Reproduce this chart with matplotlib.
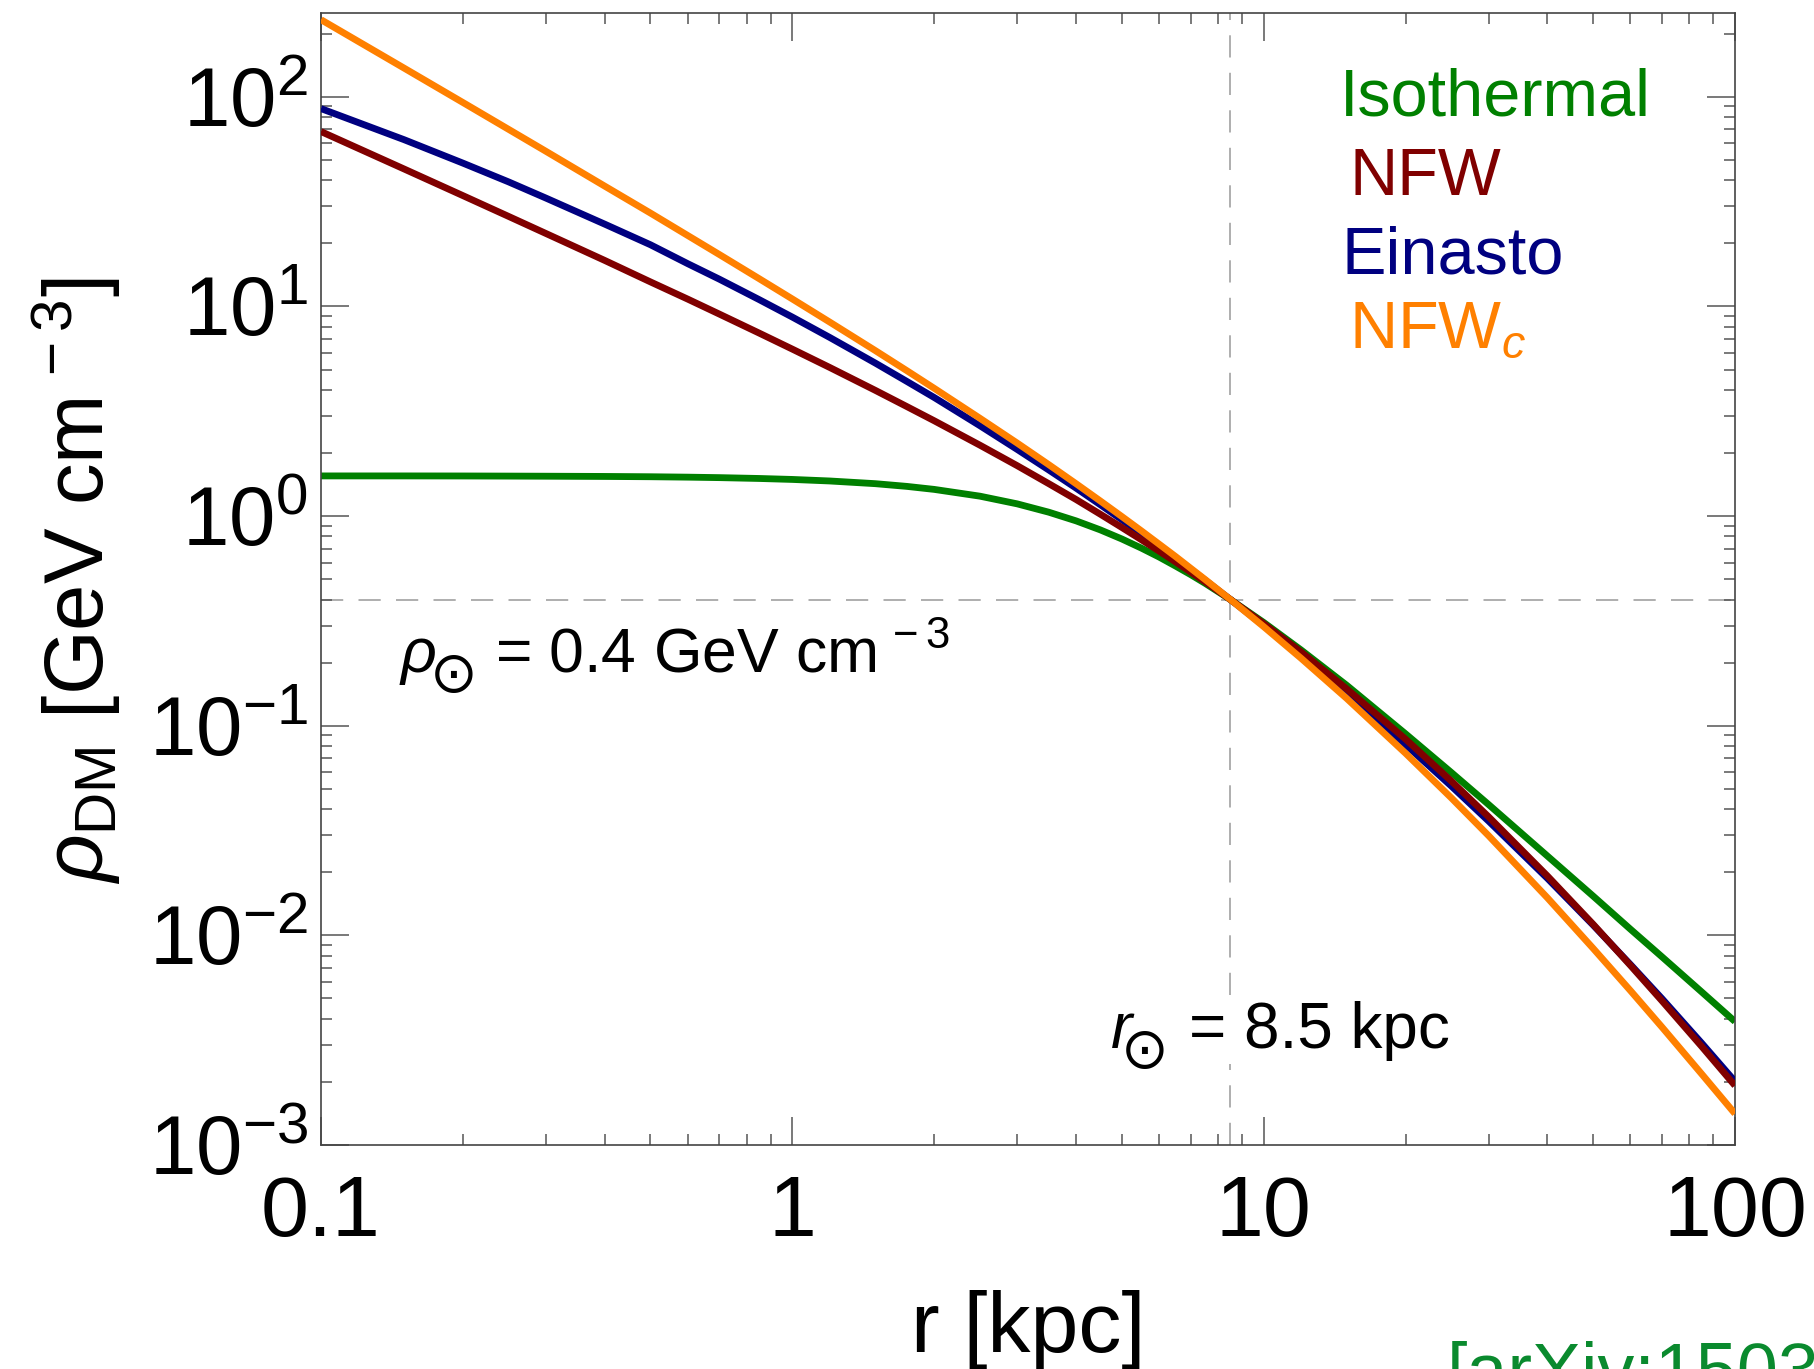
import matplotlib
matplotlib.use("Agg")
import matplotlib.pyplot as plt
import matplotlib.transforms as mtransforms
from matplotlib.ticker import LogLocator, NullFormatter

plt.rcParams['font.family'] = ['Liberation Sans', 'DejaVu Sans']
plt.rcParams['mathtext.fontset'] = 'custom'
plt.rcParams['mathtext.rm'] = 'Liberation Sans'
plt.rcParams['mathtext.it'] = 'Liberation Sans:italic'
plt.rcParams['mathtext.bf'] = 'Liberation Sans:bold'
plt.rcParams['lines.scale_dashes'] = False

# ---------------- data ----------------
r_kpc = [0.1, 0.15, 0.2, 0.25, 0.3, 0.4, 0.5, 0.6, 0.7, 0.85, 1, 1.2, 1.5, 1.75,
         2, 2.5, 3, 3.5, 4, 4.5, 5, 5.5, 6, 6.5, 7, 7.5, 8.5,
         10, 12, 15, 20, 25, 30, 40, 50, 60, 70, 85, 100]

rho_isothermal = [1.555, 1.555, 1.554, 1.552, 1.550, 1.546, 1.541, 1.534, 1.526,
                  1.512, 1.496, 1.471, 1.428, 1.386, 1.341, 1.245, 1.144, 1.044,
                  0.949, 0.860, 0.778, 0.704, 0.638, 0.578, 0.526, 0.479, 0.400,
                  0.311, 0.230, 0.156, 0.0915, 0.0599, 0.0421, 0.0239, 0.0154,
                  0.0107, 0.00790, 0.00537, 0.00388]

rho_nfw = [68.3, 45.3, 33.8, 26.9, 22.3, 16.58, 13.1, 10.84, 9.20, 7.47, 6.26,
           5.12, 3.98, 3.33, 2.85, 2.18, 1.74, 1.428, 1.20, 1.022, 0.883, 0.772,
           0.681, 0.605, 0.541, 0.487, 0.400,
           0.307, 0.225, 0.150, 0.0863, 0.0545, 0.0368, 0.0192, 0.0113, 0.00719,
           0.00487, 0.00295, 0.00192]

rho_einasto = [87.9, 62.5, 48.3, 39.3, 32.9, 24.7, 19.7, 16.0, 13.5, 10.79, 8.90,
               7.12, 5.37, 4.39, 3.68, 2.70, 2.08, 1.66, 1.36, 1.134, 0.962,
               0.826, 0.718, 0.629, 0.557, 0.496, 0.400,
               0.301, 0.216, 0.143, 0.0813, 0.0516, 0.0351, 0.0187, 0.0112,
               0.00726, 0.00499, 0.00306, 0.00201]

rho_nfwc = [233.4, 137.2, 94.0, 70.0, 55.0, 37.5, 27.9, 21.8, 17.7, 13.58, 10.86,
            8.43, 6.16, 4.94, 4.07, 2.93, 2.23, 1.76, 1.427, 1.182, 0.996, 0.851,
            0.735, 0.642, 0.564, 0.500, 0.400,
            0.297, 0.210, 0.135, 0.0739, 0.0453, 0.0299, 0.0151, 0.00867,
            0.00545, 0.00365, 0.00218, 0.00141]

profile_names = ['Isothermal', 'NFW', 'Einasto', 'NFW$_{c}$']
profile_colors = ['#008000', '#800000', '#000080', '#ff8000']

r_sun = 8.5
rho_sun = 0.4

x_limits = (0.1, 100)
y_limits = (1e-3, 10 ** 2.4)
x_ticks = [0.1, 1, 10, 100]
x_ticklabels = ['0.1', '1', '10', '100']
y_ticks = [1e-3, 1e-2, 1e-1, 1e0, 1e1, 1e2]
y_ticklabels = [r'$10^{-3}$', r'$10^{-2}$', r'$10^{-1}$', r'$10^{0}$', r'$10^{1}$', r'$10^{2}$']

# ---------------- figure ----------------
W, H = 1815, 1369
fig = plt.figure(figsize=(W / 100, H / 100), dpi=100)
ax = fig.add_axes([321 / W, 1 - 1145 / H, (1735 - 321) / W, (1145 - 13) / H])
ax.set_xscale('log')
ax.set_yscale('log')
ax.set_xlim(*x_limits)
ax.set_ylim(*y_limits)

# reference dashed lines
dash = (0, (16, 11))
ax.axhline(rho_sun, color='#a8a8a8', lw=1.3, linestyle=dash, zorder=1)
ax.axvline(r_sun, color='#a8a8a8', lw=1.3, linestyle=dash, zorder=1)

series = [rho_isothermal, rho_nfw, rho_einasto, rho_nfwc]
zorders = [2, 4, 3, 5]
for vals, c, z in zip(series, profile_colors, zorders):
    ax.plot(r_kpc, vals, color=c, lw=4.9, zorder=z, solid_capstyle='butt',
            solid_joinstyle='round')

# frame & ticks
for sp in ax.spines.values():
    sp.set_color('#444444')
    sp.set_linewidth(1.2)
ax.tick_params(which='both', direction='in', top=True, right=True,
               color='#555555', width=1.1)
ax.tick_params(which='major', length=20)
ax.tick_params(which='minor', length=8)
ax.xaxis.set_minor_locator(LogLocator(base=10, subs=range(2, 10), numticks=20))
ax.yaxis.set_minor_locator(LogLocator(base=10, subs=range(2, 10), numticks=20))
ax.xaxis.set_minor_formatter(NullFormatter())
ax.yaxis.set_minor_formatter(NullFormatter())
ax.set_xticks(x_ticks)
ax.set_xticklabels(x_ticklabels, fontsize=62)
ax.tick_params(axis='x', which='major', pad=21)
ax.set_yticks(y_ticks)
ax.set_yticklabels([''] * len(y_ticks))

# y tick labels: "10" centred on the tick, exponent above
ylab_trans = mtransforms.offset_copy(
    mtransforms.blended_transform_factory(ax.transAxes, ax.transData),
    fig=fig, x=0, y=-21.5, units='points')
for v, lab in zip(y_ticks, y_ticklabels):
    ax.text(-13 / 1414, v, lab, transform=ylab_trans, ha='right', va='baseline',
            fontsize=60, clip_on=False)

# axis labels
fig.text(1028 / W, 1 - 1352 / H, 'r [kpc]', ha='center', va='baseline', fontsize=62)
fig.text(77 / W, 1 - 581 / H, r'$\rho_{\mathrm{DM}}$ [GeV cm$^{\,-3}$]',
         rotation=90, ha='center', va='center', fontsize=60)

# legend labels
legend_pos = [(1340, 116), (1350, 195), (1342, 273), (1349, 347)]
for name, c, (px, py) in zip(profile_names, profile_colors, legend_pos):
    fig.text(px / W, 1 - py / H, name, color=c, fontsize=48, ha='left', va='baseline')

# annotations (symbol, sun sign, rest)
def sun_label(x_sym, x_sun, x_rest, y_base, sym, rest, size, box=False):
    fig.text(x_sym / W, 1 - y_base / H, sym, fontsize=size, ha='left', va='baseline')
    fig.text(x_sun / W, 1 - (y_base + 20) / H, '\u2299', family='DejaVu Sans',
             fontsize=41, ha='center', va='baseline')
    kw = {}
    if box:
        kw['bbox'] = dict(facecolor='white', edgecolor='none', pad=2)
    fig.text(x_rest / W, 1 - y_base / H, rest, fontsize=size, ha='left',
             va='baseline', **kw)

sun_label(399, 454, 495, 672, r'$\rho$', r'= 0.4 GeV cm$^{\,-3}$', 45)
sun_label(1110, 1145, 1189, 1048, r'$r$', '= 8.5 kpc', 46, box=True)

# citation (cut by the figure edge, as in the reference)
fig.text(1447 / W, 1 - 1395 / H, '[arXiv:1503', color='#0a8a2e', fontsize=53,
         ha='left', va='baseline')

fig.savefig('out.png', dpi=100)
